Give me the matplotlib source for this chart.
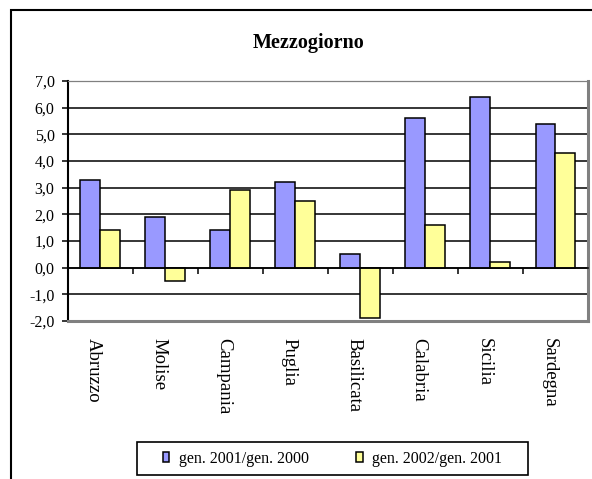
import matplotlib
matplotlib.use('Agg')
import matplotlib.pyplot as plt
from matplotlib.patches import Rectangle
from matplotlib.ticker import FuncFormatter
import numpy as np

plt.rcParams['font.family'] = ['Liberation Serif', 'DejaVu Serif']

# Dati: variazione percentuale per regione
regioni = ['Abruzzo', 'Molise', 'Campania', 'Puglia', 'Basilicata',
           'Calabria', 'Sicilia', 'Sardegna']
gen_2001_2000 = [3.3, 1.9, 1.4, 3.2, 0.5, 5.6, 6.4, 5.4]
gen_2002_2001 = [1.4, -0.5, 2.9, 2.5, -1.9, 1.6, 0.2, 4.3]
serie_labels = ['gen. 2001/gen. 2000', 'gen. 2002/gen. 2001']
titolo = 'Mezzogiorno'

col_blu = '#9999FF'
col_giallo = '#FFFF99'
grigio = '#808080'

fig = plt.figure(figsize=(5.92, 4.79), dpi=100)
ax = fig.add_axes([67.5 / 592, 1 - 321 / 479, 520.5 / 592, 240 / 479])

x = np.arange(len(regioni))
w = 0.306
b1 = ax.bar(x - w / 2, gen_2001_2000, w, color=col_blu, edgecolor='black',
            linewidth=1.1, label=serie_labels[0], zorder=3)
b2 = ax.bar(x + w / 2, gen_2002_2001, w, color=col_giallo, edgecolor='black',
            linewidth=1.1, label=serie_labels[1], zorder=3)

ax.set_xlim(-0.5, len(regioni) - 0.5)
ax.set_ylim(-2, 7)
ax.set_yticks(np.arange(-2, 8, 1))
ax.yaxis.set_major_formatter(FuncFormatter(lambda v, p: f'{v:.1f}'.replace('.', ',')))
ax.yaxis.grid(True, color='black', linewidth=1.1)
ax.set_axisbelow(True)

# asse delle categorie sullo zero, tacche ai confini
ax.spines['bottom'].set_position(('data', 0))
ax.spines['bottom'].set_linewidth(1.1)
ax.spines['bottom'].set_zorder(4)
ax.set_xticks(np.arange(-0.5, len(regioni), 1))
ax.set_xticklabels([])
ax.tick_params(axis='x', direction='out', length=4.3, width=1.1)
ax.tick_params(axis='y', direction='out', length=4.3, width=1.1, pad=5,
               labelsize=11.5)

ax.spines['left'].set_linewidth(1.5)
ax.spines['top'].set_color(grigio)
ax.spines['top'].set_linewidth(0.9)
ax.spines['right'].set_color(grigio)
ax.spines['right'].set_linewidth(2.2)
ax.plot([0, 1], [0, 0], transform=ax.transAxes, color=grigio, linewidth=2.2,
        clip_on=False, zorder=5)

# etichette delle regioni, ruotate
for i, r in enumerate(regioni):
    ax.text(i - 0.1, -0.07, r, transform=ax.get_xaxis_transform(),
            rotation=-90, ha='center', va='top', fontsize=13.5)

fig.text(309 / 592, 1 - 48.3 / 479, titolo, ha='center', va='baseline',
         fontsize=14.5, fontweight='bold')

leg = fig.legend(handles=[b1, b2], labels=serie_labels, loc='center',
                 bbox_to_anchor=(0.5617, 1 - 459 / 479), ncol=2, frameon=False,
                 fontsize=11.5, handlelength=0.4, handleheight=0.6,
                 handletextpad=0.6, columnspacing=3.0)

# cornice della legenda
fig.add_artist(Rectangle((137 / 592, 1 - 475 / 479), 391 / 592, 33 / 479,
                         transform=fig.transFigure, fill=False,
                         edgecolor='black', linewidth=1.2))

# cornice esterna del grafico
fig.add_artist(Rectangle((11 / 592, -0.05), 1.1, 1 - 10 / 479 + 0.05,
                         transform=fig.transFigure, fill=False,
                         edgecolor='black', linewidth=1.5, clip_on=False))

fig.savefig('out.png', dpi=100)
